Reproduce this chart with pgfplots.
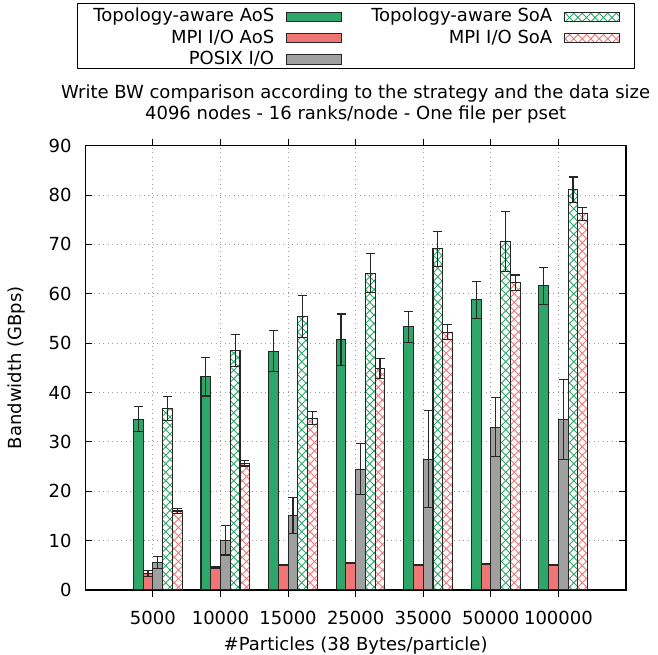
\documentclass[border=0pt]{standalone}
\usepackage{fontspec}
\setmainfont{DejaVu Sans}
\usepackage{pgfplots}
\pgfplotsset{compat=1.18}
\usepackage{pgfplotstable}
\usetikzlibrary{patterns}

\definecolor{cgreen}{RGB}{46,166,106}
\definecolor{cred}{RGB}{240,118,118}
\definecolor{cgray}{RGB}{160,160,160}

\pgfdeclarepatternformonly{dxhatch}{\pgfpoint{-1bp}{-1bp}}{\pgfpoint{9.5bp}{9.5bp}}{\pgfpoint{8.5bp}{8.5bp}}{%
  \pgfsetlinewidth{0.9bp}%
  \pgfpathmoveto{\pgfpoint{0bp}{0bp}}\pgfpathlineto{\pgfpoint{8.5bp}{8.5bp}}%
  \pgfpathmoveto{\pgfpoint{0bp}{8.5bp}}\pgfpathlineto{\pgfpoint{8.5bp}{0bp}}%
  \pgfusepath{stroke}}

% x  y  err
\pgfplotstableread{
x y e
0 34.6 2.5
1 43.2 3.9
2 48.4 4.1
3 50.7 5.2
4 53.3 3.1
5 58.8 3.75
6 61.6 3.7
}\topoaos
\pgfplotstableread{
x y e
0 3.4 0.6
1 4.6 0.15
2 5.07 0.15
3 5.5 0.15
4 5.07 0.15
5 5.27 0.15
6 5.07 0.15
}\mpiaos
\pgfplotstableread{
x y e
0 5.6 1.2
1 10.1 3.0
2 15.1 3.6
3 24.5 5.1
4 26.5 9.8
5 33.0 6.0
6 34.5 8.1
}\posix
\pgfplotstableread{
x y e
0 36.8 2.4
1 48.5 3.2
2 55.4 4.2
3 64.2 3.9
4 69.1 3.6
5 70.6 6.1
6 81.1 2.55
}\topsoa
\pgfplotstableread{
x y e
0 16.0 0.5
1 25.7 0.6
2 34.8 1.35
3 44.9 2.05
4 52.2 1.5
5 62.2 1.6
6 76.2 1.3
}\mpisoa

\begin{document}
\begin{tikzpicture}
\useasboundingbox (0,0) rectangle (658bp,655bp);
\begin{axis}[
  at={(85.3bp,65bp)}, anchor=south west,
  scale only axis, width=540.7bp, height=444.3bp,
  font=\fontsize{18bp}{21.7bp}\selectfont,
  /pgf/number format/assume math mode=true,
  xmin=-1, xmax=7, ymin=0, ymax=90,
  xtick={0,...,6},
  xticklabels={5000,10000,15000,25000,35000,50000,100000},
  ytick={0,10,...,90},
  tick align=inside, xtick pos=both, ytick pos=both,
  major tick length=7bp,
  every tick/.style={black, line width=1bp},
  axis line style={black, line width=1.2bp},
  grid=major,
  grid style={gray!75, line width=0.8bp, dash pattern=on 1bp off 3.5bp},
  yticklabel style={inner xsep=0pt, xshift=-13.6bp},
  xticklabel style={inner ysep=0pt, yshift=-14bp, anchor=north},
  title={Write BW comparison according to the strategy and the data size\\4096 nodes - 16 ranks/node - One file per pset},
  title style={at={(axis description cs:0.5,1)}, anchor=north, yshift=55.4bp, inner sep=0pt, align=center},
  xlabel={\#Particles (38 Bytes/particle)},
  xlabel style={at={(axis description cs:0.5,0)}, anchor=base, yshift=-60.7bp, inner sep=0pt},
  ylabel={Bandwidth (GBps)},
  ylabel style={at={(axis description cs:-0.127,0.5)}, anchor=center, inner sep=0pt},
  ybar=0pt, bar width=9.75bp,
  legend columns=2,
  legend plot pos=right,
  legend cell align=right,
  legend style={at={(axis description cs:0.0148,1.3095)}, anchor=north west, draw=none,
    fill=none, inner sep=0pt, row sep=4.3bp, column sep=0bp,
    nodes={inner xsep=0pt, inner ysep=0pt, text height=13.5bp, text depth=3.5bp},
    /tikz/every odd column/.append style={column sep=12bp},
    /tikz/every even column/.append style={column sep=29bp}},
  legend image code/.code={\draw[#1] (0bp,-4.6bp) rectangle (55bp,4.6bp);},
  error bars/y dir=both, error bars/y explicit,
  error bars/error mark=-,
  error bars/error mark options={black!85, line width=1.2bp, mark size=4.5bp, rotate=90},
  error bars/error bar style={black!85, line width=1.2bp},
]
\addplot[draw=black!85, line width=1.1bp, fill=cgreen, bar shift=-14.625bp]
  table[x=x, y=y, y error=e] {\topoaos};
\addlegendentry{Topology-aware AoS}
\addplot[draw=black!85, line width=1.1bp, fill=white, postaction={pattern=dxhatch, pattern color=cgreen}, bar shift=14.625bp]
  table[x=x, y=y, y error=e] {\topsoa};
\addlegendentry{Topology-aware SoA}
\addplot[draw=black!85, line width=1.1bp, fill=cred, bar shift=-4.875bp]
  table[x=x, y=y, y error=e] {\mpiaos};
\addlegendentry{MPI I/O AoS}
\addplot[draw=black!85, line width=1.1bp, fill=white, postaction={pattern=dxhatch, pattern color=cred}, bar shift=24.375bp]
  table[x=x, y=y, y error=e] {\mpisoa};
\addlegendentry{MPI I/O SoA}
\addplot[draw=black!85, line width=1.1bp, fill=cgray, bar shift=4.875bp]
  table[x=x, y=y, y error=e] {\posix};
\addlegendentry{POSIX I/O}
\end{axis}
\draw[black, line width=1bp] (77.7bp,586.7bp) rectangle (634.3bp,651.7bp);
\end{tikzpicture}
\end{document}
